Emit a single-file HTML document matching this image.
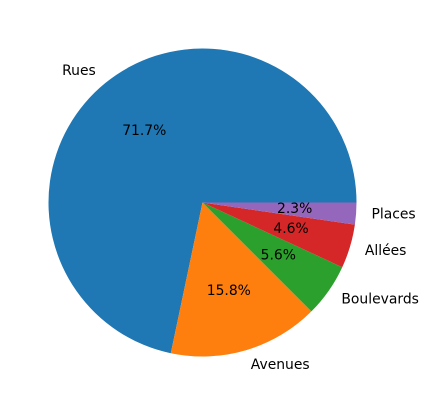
<!DOCTYPE html>
<html>
<head>
<meta charset="utf-8">
<style>
html,body{margin:0;padding:0;background:#fff;}
svg text{font-family:"DejaVu Sans","Liberation Sans",sans-serif;font-size:13.9px;fill:#000;}
</style>
</head>
<body>
<svg id="chart" width="429" height="405" viewBox="0 0 429 405" xmlns="http://www.w3.org/2000/svg">
<g id="slices"></g>
<g id="labels"></g>
</svg>
<script>
const categories = ["Rues", "Avenues", "Boulevards", "Allées", "Places"];
const values = [71.7, 15.8, 5.6, 4.6, 2.3];
const colors = ["#1f77b4", "#ff7f0e", "#2ca02c", "#d62728", "#9467bd"];

const cx = 202.5, cy = 202.5, r = 154;
const NS = "http://www.w3.org/2000/svg";
const gS = document.getElementById("slices");
const gL = document.getElementById("labels");
const total = values.reduce((a, b) => a + b, 0);
function pt(deg, rad) {
  const t = deg * Math.PI / 180;
  return [cx + rad * Math.cos(t), cy - rad * Math.sin(t)];
}
let start = 0;
values.forEach((v, i) => {
  const sweep = v / total * 360;
  const end = start + sweep;
  const [x1, y1] = pt(start, r);
  const [x2, y2] = pt(end, r);
  const large = sweep > 180 ? 1 : 0;
  const p = document.createElementNS(NS, "path");
  p.setAttribute("d", `M${cx},${cy} L${x1},${y1} A${r},${r} 0 ${large} 0 ${x2},${y2} Z`);
  p.setAttribute("fill", colors[i]);
  
  
  gS.appendChild(p);

  const mid = start + sweep / 2;
  const [lx, ly] = pt(mid, r * 1.1);
  const t = document.createElementNS(NS, "text");
  t.setAttribute("x", lx);
  t.setAttribute("y", ly);
  t.setAttribute("dominant-baseline", "central");
  t.setAttribute("text-anchor", Math.cos(mid * Math.PI / 180) >= 0 ? "start" : "end");
  t.textContent = categories[i];
  
  
  gL.appendChild(t);

  const [px, py] = pt(mid, r * 0.6);
  const pc = document.createElementNS(NS, "text");
  pc.setAttribute("x", px);
  pc.setAttribute("y", py);
  pc.setAttribute("dominant-baseline", "central");
  pc.setAttribute("text-anchor", "middle");
  pc.textContent = (v / total * 100).toFixed(1) + "%";
  
  
  gL.appendChild(pc);

  start = end;
});
</script>
</body>
</html>
